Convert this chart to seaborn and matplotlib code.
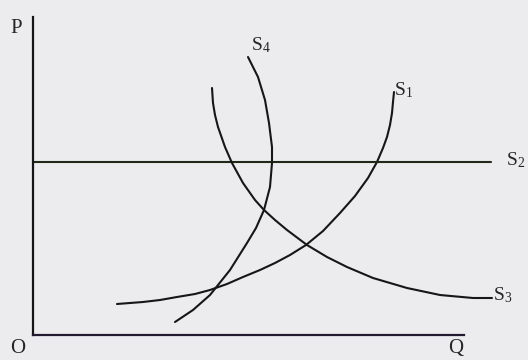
import pandas as pd
import seaborn as sns
import matplotlib.pyplot as plt

# curve points (Q right, P up, origin at axes corner)
s1_q = [84, 110, 127, 144, 162, 177, 194, 210, 227, 242, 257, 273, 290, 307, 322, 335, 344, 350, 354, 357, 359, 360, 361]
s1_p = [31, 33, 35, 38, 41, 45, 51, 58, 65, 72, 80, 90, 104, 122, 139, 157, 173, 187, 198, 210, 222, 233, 243]

s2_q = [0, 458]
s2_p = [173, 173]

s3_q = [179, 180, 182, 185, 192, 199, 210, 222, 231, 242, 254, 274, 294, 314, 340, 374, 407, 440, 459]
s3_p = [247, 232, 220, 208, 188, 172, 152, 135, 125, 115, 105, 90, 78, 68, 57, 47, 40, 37, 37]

s4_q = [215, 225, 232, 236, 239, 239, 237, 231, 223, 214, 197, 177, 160, 142]
s4_p = [278, 258, 235, 212, 188, 172, 148, 125, 107, 92, 65, 40, 25, 13]

curve_names = ["S1", "S2", "S3", "S4"]
labels = {"S1": r"$\mathregular{S_1}$", "S2": r"$\mathregular{S_2}$",
          "S3": r"$\mathregular{S_3}$", "S4": r"$\mathregular{S_4}$"}

frames = []
for name, qs, ps in zip(curve_names, [s1_q, s2_q, s3_q, s4_q], [s1_p, s2_p, s3_p, s4_p]):
    frames.append(pd.DataFrame({"Q": qs, "P": ps, "curve": name}))
df = pd.concat(frames, ignore_index=True)

sns.set_style("white")
plt.rcParams["font.family"] = ["Liberation Serif", "DejaVu Serif"]
plt.rcParams["mathtext.default"] = "regular"

bg = "#ececee"
fig = plt.figure(figsize=(5.28, 3.6), dpi=100, facecolor=bg)
ax = fig.add_axes([33 / 528, 25 / 360, 431 / 528, 318 / 360])
ax.set_facecolor(bg)

pal = {"S1": "#161616", "S2": "#202818", "S3": "#161616", "S4": "#161616"}
sns.lineplot(data=df, x="Q", y="P", hue="curve", palette=pal, sort=False,
             estimator=None, legend=False, linewidth=1.5, ax=ax, clip_on=False)

ax.set_xlim(0, 431)
ax.set_ylim(0, 318)
ax.set_xticks([])
ax.set_yticks([])
ax.set_xlabel("")
ax.set_ylabel("")
for side in ["top", "right"]:
    ax.spines[side].set_visible(False)
ax.spines["left"].set_linewidth(1.6)
ax.spines["left"].set_color("#151515")
ax.spines["bottom"].set_linewidth(1.6)
ax.spines["bottom"].set_color("#221a2e")

# axis letters
ax.text(-23, 302, "P", fontsize=15, ha="left", va="baseline", clip_on=False)
ax.text(-23, -18, "O", fontsize=15, ha="left", va="baseline", clip_on=False)
ax.text(415, -18, "Q", fontsize=15, ha="left", va="baseline", clip_on=False)

# curve labels
label_pos = {"S1": (361, 240), "S2": (473, 170), "S3": (460, 35), "S4": (218, 285)}
for name in curve_names:
    x, y = label_pos[name]
    ax.text(x, y, labels[name], fontsize=14, ha="left", va="baseline", clip_on=False)

fig.savefig("out.png", dpi=100, facecolor=bg)
